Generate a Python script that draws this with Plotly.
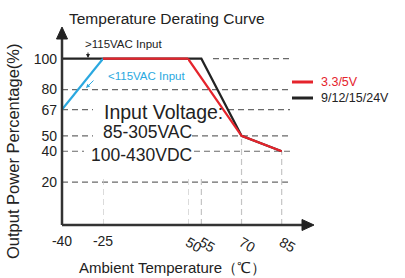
import plotly.graph_objects as go

# ---------------- data ----------------
title_text = "Temperature Derating Curve"
x_title = "Ambient Temperature（℃）"
y_title = "Output Power Percentage(%)"

x_ticks = [-40, -25, 50, 55, 70, 85]
y_ticks = [20, 40, 50, 67, 80, 100]

blue_temp = [-40, -25]
blue_power = [67, 100]
black_temp = [-40, -25, 50, 55, 70, 85]
black_power = [100, 100, 100, 100, 50, 40]
red_temp = [-25, 50, 70, 85]
red_power = [100, 100, 50, 40]

legend_names = ["3.3/5V", "9/12/15/24V"]
note_lines = ["Input Voltage:", "85-305VAC", "100-430VDC"]
high_label = ">115VAC Input"
low_label = "<115VAC Input"

# ---------------- layout helpers ----------------
W, H = 405, 278
L, R, T, B = 62, 313, 28, 225
FONT = "Liberation Sans, Arial, sans-serif"
RED, BLACK, BLUE = "#e5242c", "#232323", "#2aa8e0"
GRID = "#6a6a6a"
VGRID = "#c4c4c4"


def fx(px):
    return (px - L) / (R - L)


def fy(py):
    return (B - py) / (B - T)


# broken x axis: each segment has its own linear scale
segments = [
    ((-40, -25), (62, 103), [-40]),
    ((-25, 50), (103, 188), [-25]),
    ((50, 96.7), (188, 313), [50, 55, 70, 85]),
]
y_range = [-7.8, 119.9]

fig = go.Figure()


def add_series(temps, powers, color):
    for i, ((lo, hi), _, _) in enumerate(segments):
        xs = [t for t in temps if lo <= t <= hi]
        ys = [p for t, p in zip(temps, powers) if lo <= t <= hi]
        if len(xs) >= 2:
            fig.add_trace(go.Scatter(
                x=xs, y=ys, mode="lines",
                line=dict(color=color, width=2.2),
                xaxis="x" if i == 0 else f"x{i+1}", yaxis="y",
                hoverinfo="skip", showlegend=False))


add_series(black_temp, black_power, BLACK)
add_series(red_temp, red_power, RED)
add_series(blue_temp, blue_power, BLUE)

layout = dict(
    width=W, height=H,
    margin=dict(l=L, r=W - R, t=T, b=H - B, pad=0),
    paper_bgcolor="white", plot_bgcolor="white",
    showlegend=False,
    font=dict(family=FONT, color="#222"),
    yaxis=dict(range=y_range, anchor="x", tickvals=y_ticks,
               ticktext=[str(v) for v in y_ticks],
               showgrid=False, zeroline=False, showline=False, ticks="",
               tickfont=dict(size=14, family=FONT, color="#222"),
               ticklabelstandoff=4),
)
for i, ((lo, hi), (p0, p1), tv) in enumerate(segments):
    key = "xaxis" if i == 0 else f"xaxis{i+1}"
    layout[key] = dict(
        domain=[fx(p0), fx(p1)], range=[lo, hi], anchor="y",
        tickvals=tv, ticktext=[str(v) for v in tv],
        showgrid=False, zeroline=False, showline=False, ticks="",
        tickfont=dict(size=14, family=FONT, color="#222"),
        ticklabelstandoff=6)
fig.update_layout(**layout)

shapes = []
# horizontal dashed guide lines, broken where the voltage note sits
gaps = {67: (93, 228), 50: (93, 192), 40: (84, 194)}
for v in y_ticks:
    start = 213 if v == 100 else 62
    pieces = [(start, 290)]
    if v in gaps:
        g0, g1 = gaps[v]
        pieces = [(start, g0), (g1, 290)]
    for a, b in pieces:
        shapes.append(dict(type="line", xref="paper", yref="y", x0=fx(a), x1=fx(b),
                           y0=v, y1=v, line=dict(color=GRID, width=1.2, dash="6px,4px"),
                           layer="below"))
# vertical light guide lines
vert = [("x2", -25, 22), ("x3", 50, 22), ("x3", 55, 22), ("x3", 70, 50), ("x3", 85, 40)]
for xr, xv, top in vert:
    shapes.append(dict(type="line", xref=xr, yref="y", x0=xv, x1=xv,
                       y0=y_range[0], y1=top,
                       line=dict(color=VGRID, width=1.2, dash="6px,4px"), layer="below"))
# axis lines
shapes.append(dict(type="line", xref="paper", yref="paper", x0=fx(62), x1=fx(305),
                   y0=fy(225), y1=fy(225), line=dict(color="#333", width=2.5)))
shapes.append(dict(type="line", xref="paper", yref="paper", x0=fx(62), x1=fx(62),
                   y0=fy(225), y1=fy(36), line=dict(color="#333", width=2.5)))
# arrow heads
shapes.append(dict(type="path", xref="paper", yref="paper",
                   path=f"M {fx(314)} {fy(225)} L {fx(302)} {fy(219.5)} L {fx(302)} {fy(230.5)} Z",
                   fillcolor="#222", line=dict(color="#222", width=1)))
shapes.append(dict(type="path", xref="paper", yref="paper",
                   path=f"M {fx(62)} {fy(27)} L {fx(56.5)} {fy(39)} L {fx(67.5)} {fy(39)} Z",
                   fillcolor="#222", line=dict(color="#222", width=1)))
# legend lines
shapes.append(dict(type="line", xref="paper", yref="paper", x0=fx(292), x1=fx(313),
                   y0=fy(82), y1=fy(82), line=dict(color=RED, width=3)))
shapes.append(dict(type="line", xref="paper", yref="paper", x0=fx(292), x1=fx(313),
                   y0=fy(98), y1=fy(98), line=dict(color=BLACK, width=3)))
fig.update_layout(shapes=shapes)

ann = []


def text(t, px, py, size, color="#222", xanchor="center", angle=0, align="center"):
    ann.append(dict(text=t, xref="paper", yref="paper", x=fx(px), y=fy(py),
                    xanchor=xanchor, yanchor="middle", showarrow=False, align=align,
                    font=dict(size=size, color=color, family=FONT), textangle=angle,
                    borderpad=0))


text(title_text, 167, 18, 15.5)
text(y_title, 13, 151, 16.5, angle=-90)
text(x_title, 172, 267, 15)
text(high_label, 123, 44, 11.5)
text(low_label, 146, 76, 11.5, color=BLUE)
text(note_lines[0], 163, 112, 19.5)
text("<br>".join(note_lines[1:]), 193, 143.5, 17.5, xanchor="right", align="right")
text(legend_names[0], 320, 82, 12.5, color=RED, xanchor="left")
text(legend_names[1], 320, 98, 12.5, color=BLACK, xanchor="left")
# small pointer arrows
ann.append(dict(text="", xref="paper", yref="paper", x=fx(88), y=fy(58),
                ax=0, ay=-7, showarrow=True, arrowhead=2, arrowsize=0.8,
                arrowwidth=1, arrowcolor="#222"))
ann.append(dict(text="", xref="paper", yref="paper", x=fx(86), y=fy(88),
                ax=9, ay=-9, showarrow=True, arrowhead=2, arrowsize=0.8,
                arrowwidth=1, arrowcolor=BLUE))
fig.update_layout(annotations=ann)

fig.write_html(
    "out.html",
    config={"displayModeBar": False},
    post_script="document.body.style.margin='0';document.body.style.overflow='hidden';",
)
